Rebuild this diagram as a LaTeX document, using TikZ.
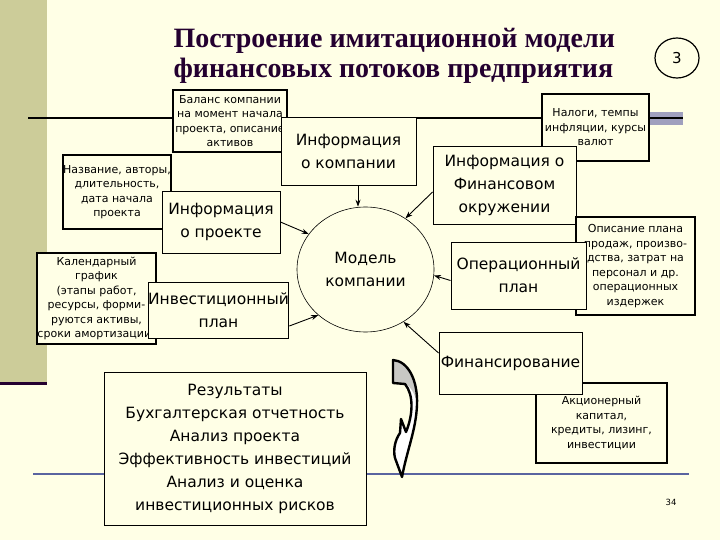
\documentclass[tikz,border=0pt]{standalone}
\usepackage{fontspec}
\setmainfont{DejaVu Sans}
\newfontfamily\titlefont{Liberation Serif}
\usetikzlibrary{arrows.meta, positioning, shapes.geometric}
\definecolor{slidebg}{RGB}{255,255,230}
\definecolor{sidebar}{RGB}{204,204,153}
\definecolor{titleink}{RGB}{36,0,48}
\definecolor{barshade}{RGB}{160,160,190}
\definecolor{rulerblue}{RGB}{90,100,160}
\definecolor{featgray}{RGB}{200,200,196}

\begin{document}
\begin{tikzpicture}[x=1pt, y=-1pt,
  infobox/.style={draw, fill=slidebg, line width=0.9pt, align=center, inner sep=0pt, font=\fontsize{15.5}{23}\selectfont},
  notebox/.style={draw, fill=slidebg, line width=2.2pt, align=center, inner sep=0pt, font=\fontsize{11}{14.5}\selectfont},
  feed/.style={-{Stealth[length=7pt,width=5pt]}, line width=0.9pt}
]
  \useasboundingbox (0,0) rectangle (720,540);
  \fill[slidebg] (0,0) rectangle (720,540);
  % slide frame
  \fill[sidebar] (0,0) rectangle (47,382);
  \fill[titleink] (0,382) rectangle (47,385);
  \fill[barshade] (650,112) rectangle (683,125);
  \draw[line width=1.8pt] (28,118) -- (683,118);
  \draw[rulerblue, line width=1.2pt] (33,474) -- (689,474);

  \node[font=\titlefont\bfseries\fontsize{28}{30}\selectfont, text=titleink, align=left, anchor=west] (title) at (170,56) {Построение имитационной модели\\финансовых потоков предприятия};
  \node[draw, ellipse, line width=1.2pt, minimum width=44pt, minimum height=40pt, inner sep=0pt, font=\fontsize{15}{15}\selectfont] (partno) at (677,58) {3};

  % source boxes
  \node[notebox, minimum width=114pt, minimum height=62pt] (balance) at (230,121) {Баланс компании\\на момент начала\\проекта, описание\\активов};
  \node[infobox, minimum width=135pt, minimum height=68pt] (companyinfo) at (348.5,151) {Информация\\о компании};
  \node[notebox, minimum width=107pt, minimum height=67pt] (taxes) at (595.5,127.5) {Налоги, темпы\\инфляции, курсы\\валют};
  \node[infobox, minimum width=143pt, minimum height=78pt] (envinfo) at (504.5,185) {Информация о\\Финансовом\\окружении};
  \node[notebox, minimum width=106pt, minimum height=74pt] (projdata) at (117,192) {Название, авторы,\\длительность,\\дата начала\\проекта};
  \node[infobox, minimum width=118pt, minimum height=62pt] (projinfo) at (221,222) {Информация\\о проекте};
  \node[notebox, minimum width=119pt, minimum height=91pt] (schedule) at (96.5,298.5) {Календарный\\график\\(этапы работ,\\ресурсы, форми-\\руются активы,\\сроки амортизации)};
  \node[infobox, minimum width=137pt, minimum height=56pt] (investplan) at (218.5,310) {Инвестиционный\\план};
  \node[notebox, minimum width=119pt, minimum height=98pt] (salesdata) at (635.5,266) {Описание плана\\продаж, произво-\\дства, затрат на\\персонал и др.\\операционных\\издержек};
  \node[infobox, minimum width=135pt, minimum height=67pt] (operplan) at (518.5,275.5) {Операционный\\план};
  \node[notebox, minimum width=131pt, minimum height=80pt] (capital) at (601.5,423) {Акционерный\\капитал,\\кредиты, лизинг,\\инвестиции};
  \node[infobox, minimum width=143pt, minimum height=62pt] (funding) at (510.5,363) {Финансирование};
  \node[infobox, minimum width=262pt, minimum height=153pt] (results) at (235,448.5) {Результаты\\Бухгалтерская отчетность\\Анализ проекта\\Эффективность инвестиций\\Анализ и оценка\\инвестиционных рисков};

  % model
  \node[draw, ellipse, line width=0.6pt, fill=slidebg, minimum width=137pt, minimum height=125pt, inner sep=0pt, align=center, font=\fontsize{15.5}{23}\selectfont] (model) at (365.5,269.5) {Модель\\компании};

  \draw[feed] ([xshift=9.5pt]companyinfo.south) -- ([xshift=9.5pt]companyinfo.south |- model.north);
  \draw[feed] (projinfo.east) -- (model.148);
  \draw[feed] ([yshift=-16pt]investplan.east) -- (model.224);
  \draw[feed] ([yshift=-7pt]envinfo.west) -- (model.52);
  \draw[feed] ([yshift=-5pt]operplan.west) -- (model.-5);
  \draw[feed] ([yshift=10pt]funding.west) -- (model.-54);

  % curved arrow
  \fill[white] (393,360) .. controls (408,361) and (418,380) .. (417,405) .. controls (416,430) and (407,450) .. (402,477) -- (395,458) .. controls (393,450) and (395,440) .. (400,433) -- (401,419) -- (406,432) .. controls (413,415) and (414,395) .. (405,384) -- (393,383) -- cycle;
  \fill[featgray] (393,360) .. controls (407,361) and (416,380) .. (417,402) .. controls (414,393) and (411,386) .. (405,384) -- (393,383) -- cycle;
  \draw[line width=2.4pt, line join=round] (393,360) .. controls (408,361) and (418,380) .. (417,405) .. controls (416,430) and (407,450) .. (402,477) -- (395,458) .. controls (393,450) and (395,440) .. (400,433) -- (401,419) -- (406,432) .. controls (413,415) and (414,395) .. (405,384) -- (393,383) -- cycle;

  \node[font=\fontsize{8.5}{8.5}\selectfont] (slideno) at (671,502) {34};
\end{tikzpicture}
\end{document}
